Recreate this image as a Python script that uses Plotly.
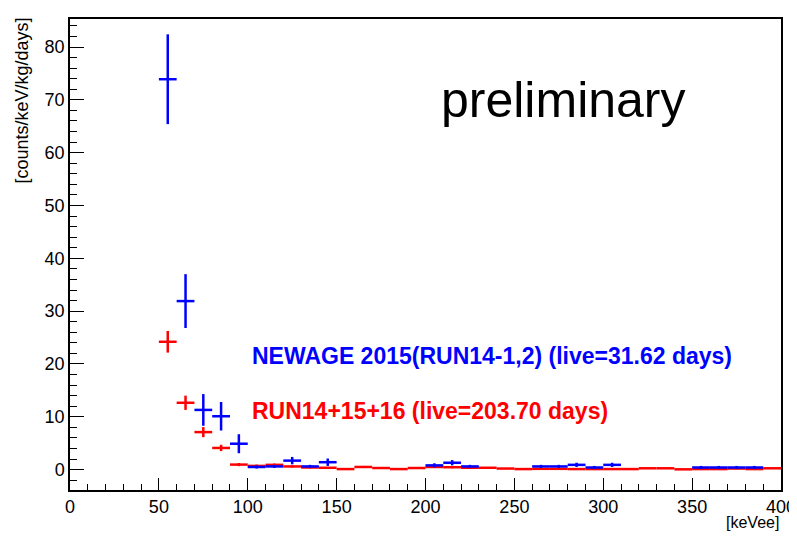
import plotly.graph_objects as go

# bin centres (keV), 10 keV wide bins
blue_x = [55, 65, 75, 85, 95, 105, 115, 125, 135, 145, 205, 215, 225, 265, 275, 285, 295, 305, 355, 365, 375, 385]
blue_y = [73.9, 31.9, 11.3, 10.1, 4.9, 0.5, 0.6, 1.7, 0.6, 1.4, 0.8, 1.3, 0.6, 0.6, 0.6, 0.9, 0.4, 0.9, 0.4, 0.4, 0.4, 0.4]
blue_err = [8.5, 5.1, 3.0, 2.7, 1.8, 0.3, 0.3, 0.7, 0.3, 0.7, 0.4, 0.5, 0.3, 0.3, 0.3, 0.4, 0.3, 0.4, 0.3, 0.3, 0.3, 0.3]

red_x = [55, 65, 75, 85, 95, 105, 115, 125, 135, 145, 155, 165, 175, 185, 195, 205, 215, 225, 235, 245,
         255, 265, 275, 285, 295, 305, 315, 325, 335, 345, 355, 365, 375, 385, 395]
red_y = [24.2, 12.65, 7.1, 4.1, 0.95, 0.7, 0.9, 0.6, 0.4, 0.35, 0.1, 0.5, 0.3, 0.1, 0.3, 0.5, 0.45, 0.35, 0.35, 0.2,
         0.1, 0.15, 0.15, 0.1, 0.1, 0.1, 0.1, 0.25, 0.25, 0.05, 0.1, 0.1, 0.2, 0.1, 0.25]
red_err = [2.05, 1.35, 0.95, 0.6, 0.3, 0.25, 0.25, 0.2, 0.15, 0.15, 0.1, 0.2, 0.15, 0.1, 0.15, 0.2, 0.2, 0.15, 0.15, 0.1,
           0.1, 0.1, 0.1, 0.1, 0.1, 0.1, 0.1, 0.1, 0.1, 0.1, 0.1, 0.1, 0.1, 0.1, 0.1]
bin_half_width = 5

blue_label = "NEWAGE 2015(RUN14-1,2) (live=31.62 days)"
red_label = "RUN14+15+16 (live=203.70 days)"

fig = go.Figure()


def add_hist(xs, ys, errs, color):
    fig.add_trace(go.Scatter(
        x=xs, y=ys, mode="markers",
        marker=dict(size=1, color=color),
        error_x=dict(type="constant", value=bin_half_width, color=color, thickness=2.5, width=0),
        error_y=dict(type="data", array=errs, color=color, thickness=2.5, width=0),
        showlegend=False, hoverinfo="skip",
    ))


add_hist(red_x, red_y, red_err, "#ff0000")
add_hist(blue_x, blue_y, blue_err, "#0000ff")

font_family = "Liberation Sans, Arial, sans-serif"

# the page has an 8px body margin, so the figure is drawn 8px right/down
fig.update_layout(
    width=797, height=538,
    margin=dict(l=62, r=22, t=9, b=56),
    paper_bgcolor="white", plot_bgcolor="white",
    font=dict(family=font_family, size=18, color="black"),
    xaxis=dict(
        range=[0, 400], showgrid=False, zeroline=False,
        showline=True, linecolor="black", linewidth=1.5, mirror=True,
        ticks="inside", ticklen=12, tickwidth=1.2, tickcolor="black",
        tick0=0, dtick=50, ticklabeloverflow="allow",
        minor=dict(ticks="inside", ticklen=6, dtick=10, tickcolor="black", tickwidth=1.2, showgrid=False),
        tickfont=dict(size=18),
    ),
    yaxis=dict(
        range=[-3.86, 85.3], showgrid=False, zeroline=False,
        showline=True, linecolor="black", linewidth=1.5, mirror=True,
        ticks="inside", ticklen=14, tickwidth=1.2, tickcolor="black",
        tick0=0, dtick=10,
        minor=dict(ticks="inside", ticklen=7, dtick=2, tickcolor="black", tickwidth=1.2, showgrid=False),
        tickfont=dict(size=18),
    ),
)

fig.add_annotation(text="[counts/keV/kg/days]", xref="paper", yref="paper",
                   x=-0.067, y=1.008, xanchor="center", yanchor="top", textangle=-90,
                   showarrow=False, font=dict(size=18, family=font_family))
fig.add_annotation(text="[keVee]", xref="paper", yref="paper",
                   x=1.0, y=-0.068, xanchor="right", yanchor="middle",
                   showarrow=False, font=dict(size=16, family=font_family))
fig.add_annotation(text="preliminary", xref="paper", yref="paper",
                   x=0.519, y=0.828, xanchor="left", yanchor="middle",
                   showarrow=False, font=dict(size=50, family=font_family))
fig.add_annotation(text="<b>" + blue_label + "</b>", xref="paper", yref="paper",
                   x=0.2525, y=0.285, xanchor="left", yanchor="middle",
                   showarrow=False, font=dict(size=23, color="#0000ff", family=font_family))
fig.add_annotation(text="<b>" + red_label + "</b>", xref="paper", yref="paper",
                   x=0.2525, y=0.168, xanchor="left", yanchor="middle",
                   showarrow=False, font=dict(size=23, color="#ff0000", family=font_family))

fig.write_html("out.html")
